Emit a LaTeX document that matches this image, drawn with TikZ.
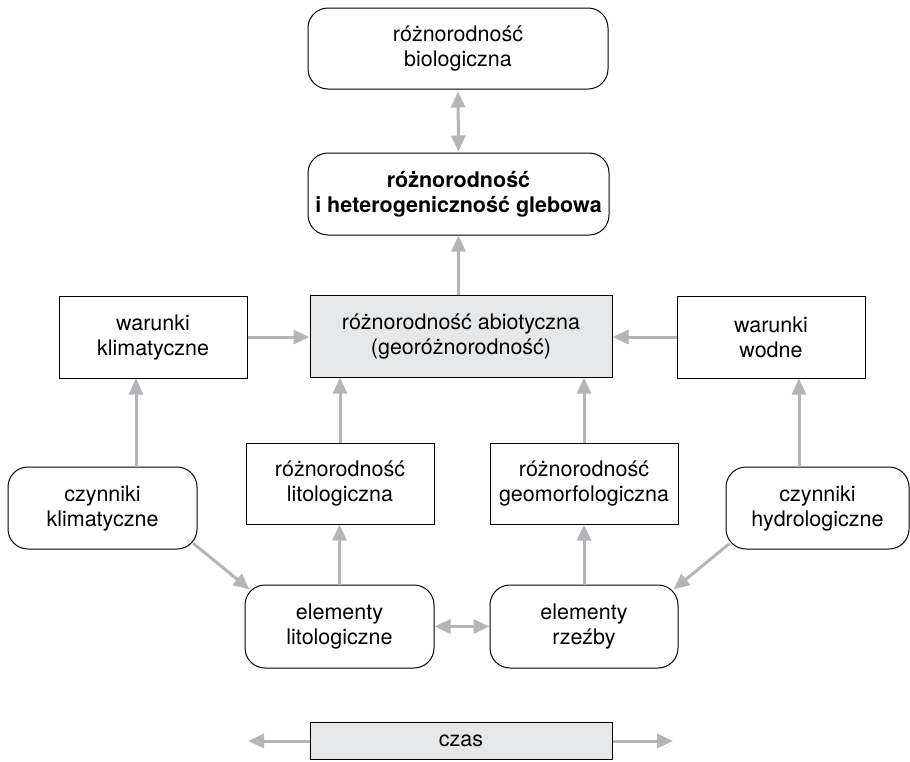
\documentclass[tikz,border=0pt]{standalone}
\usepackage{fontspec}
\setmainfont{TeX Gyre Heros}
\usetikzlibrary{arrows.meta,calc}
\definecolor{linkgray}{HTML}{B3B5B8}
\definecolor{boxfill}{HTML}{E6E7E8}
\tikzset{
  block/.style={draw=black, line width=1pt, inner sep=0pt, align=center,
    font=\fontsize{21.5}{25}\selectfont},
  plainbox/.style={block},
  roundbox/.style={block, rounded corners=20pt},
  shaded/.style={fill=boxfill},
  link/.style={draw=linkgray, line width=3pt,
    -{Triangle[length=16pt,width=14pt]}},
  dlink/.style={draw=linkgray, line width=3pt,
    {Triangle[length=16pt,width=14pt]}-{Triangle[length=16pt,width=14pt]}}
}
\begin{document}
\begin{tikzpicture}[x=1pt,y=-1pt]
\useasboundingbox (0,0) rectangle (910,761);

% top row
\node[roundbox, minimum width=300pt, minimum height=81pt] (bio) at (458,48.5)
  {różnorodność\\biologiczna};
\node[roundbox, minimum width=301pt, minimum height=82pt,
  font=\fontsize{21.5}{25}\selectfont\bfseries] (soil) at (458.5,194)
  {różnorodność\\i heterogeniczność glebowa};

% middle row
\node[plainbox, shaded, minimum width=302pt, minimum height=82pt] (abio) at (461,336)
  {różnorodność abiotyczna\\(georóżnorodność)};
\node[plainbox, minimum width=188pt, minimum height=82pt] (wk) at (153,337)
  {warunki\\klimatyczne};
\node[plainbox, minimum width=188pt, minimum height=82pt] (ww) at (771,337)
  {warunki\\wodne};

% diversity boxes
\node[plainbox, minimum width=188pt, minimum height=81pt] (rl) at (340,483.5)
  {różnorodność\\litologiczna};
\node[plainbox, minimum width=188pt, minimum height=81pt] (rg) at (584,483.5)
  {różnorodność\\geomorfologiczna};

% factors
\node[roundbox, minimum width=189pt, minimum height=82pt] (ck) at (102.5,508)
  {czynniki\\klimatyczne};
\node[roundbox, minimum width=183pt, minimum height=82pt] (ch) at (817.5,508)
  {czynniki\\hydrologiczne};

% elements
\node[roundbox, minimum width=189pt, minimum height=83pt] (el) at (339.5,626.5)
  {elementy\\litologiczne};
\node[roundbox, minimum width=188pt, minimum height=83pt] (er) at (584,626.5)
  {elementy\\rzeźby};

% time bar
\node[plainbox, shaded, minimum width=302pt, minimum height=37pt] (czas) at (461,741)
  {czas};

% helper points for off-centre connectors
\coordinate (ckup) at ($(ck.north)+(33.5,0)$);
\coordinate (chup) at ($(ch.north)+(-18.5,0)$);
\coordinate (ckout) at ($(ck.south east)+(-4,-6)$);
\coordinate (elin) at ($(el.north west)+(5,5)$);
\coordinate (chout) at ($(ch.south west)+(4,-6)$);
\coordinate (erin) at ($(er.north east)+(-5,5)$);
\coordinate (tl) at (248,741);
\coordinate (tr) at (673,741);

% connectors
\draw[dlink, shorten <=2pt, shorten >=1pt] (bio.south) -- (soil.north);
\draw[link] (abio.north -| soil.south) -- (soil.south);
\draw[link] (wk.east) -- (wk.east -| abio.west);
\draw[link] (ww.west) -- (ww.west -| abio.east);
\draw[link] (rl.north) -- (rl.north |- abio.south);
\draw[link] (rg.north) -- (rg.north |- abio.south);
\draw[link] (ckup) -- (ckup |- wk.south);
\draw[link] (chup) -- (chup |- ww.south);
\draw[link] (el.north) -- (el.north |- rl.south);
\draw[link] (er.north) -- (er.north |- rg.south);
\draw[link] (ckout) -- (elin);
\draw[link] (chout) -- (erin);
\draw[dlink] (el.east) -- (er.west);
\draw[link] (czas.west) -- (tl);
\draw[link] (czas.east) -- (tr);
\end{tikzpicture}
\end{document}
